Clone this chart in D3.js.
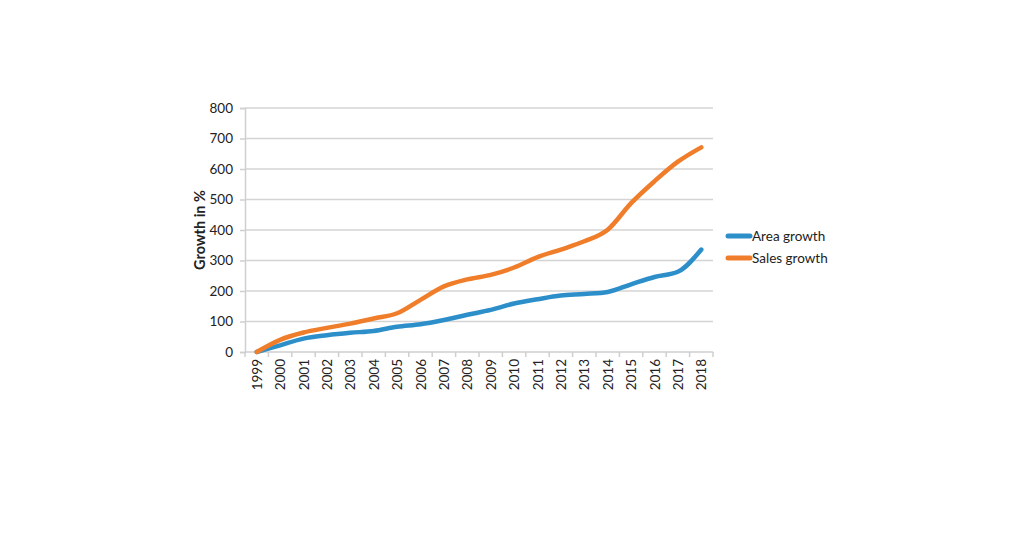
<!DOCTYPE html>
<html>
<head>
<meta charset="utf-8">
<script src="https://cdn.jsdelivr.net/npm/d3@7"></script>
<style>
  body { margin: 0; background: #fff; }
  text { font-family: Lato, "Open Sans", sans-serif; fill: #222; }
</style>
</head>
<body>
<div id="chart"></div>
<script>
const width = 1024;
const height = 536;

// data
const years = ['1999','2000','2001','2002','2003','2004','2005','2006','2007','2008',
               '2009','2010','2011','2012','2013','2014','2015','2016','2017','2018'];
const areaGrowth  = [0, 22, 44, 55, 63, 69, 83, 91, 105, 122, 138, 159, 173, 185, 190, 197, 222, 246, 263, 336];
const salesGrowth = [0, 40, 64, 79, 93, 110, 127, 171, 215, 238, 253, 277, 311, 336, 363, 401, 488, 560, 624, 671];
const yTicks = [0, 100, 200, 300, 400, 500, 600, 700, 800];

const series = [
  { name: 'Area growth', values: areaGrowth, color: '#2d8fca' },
  { name: 'Sales growth', values: salesGrowth, color: '#f07d2a' }
];

const margin = { left: 245, top: 108, right: 311, bottom: 184 };
const innerW = width - margin.left - margin.right;
const innerH = height - margin.top - margin.bottom;

const svg = d3.select('#chart')
  .append('svg')
  .attr('width', width)
  .attr('height', height);

const g = svg.append('g')
  .attr('transform', `translate(${margin.left}, ${margin.top})`);

// scales
const x = d3.scaleBand()
  .domain(years)
  .range([0, innerW]);

const y = d3.scaleLinear()
  .domain([0, 800])
  .range([innerH, 0]);

// gridlines
g.selectAll('line.grid')
  .data(yTicks.filter(d => d > 0))
  .join('line')
  .attr('class', 'grid')
  .attr('x1', 0)
  .attr('x2', innerW)
  .attr('y1', d => y(d))
  .attr('y2', d => y(d))
  .attr('stroke', '#d4d4d4')
  .attr('stroke-width', 1.5);

// y axis
const yAxis = g.append('g')
  .call(d3.axisLeft(y).tickValues(yTicks).tickSize(5).tickPadding(7));
yAxis.select('.domain').attr('stroke', '#cfcfcf').attr('stroke-width', 1.5);
yAxis.selectAll('.tick line').attr('stroke', '#cfcfcf').attr('stroke-width', 1.5);
yAxis.selectAll('text')
  .attr('font-size', '13.5px')
  .attr('fill', '#222')
  .style('font-family', 'Lato, sans-serif');

// x axis: ticks between the categories
const xAxis = g.append('g')
  .attr('transform', `translate(0,${innerH})`);
xAxis.append('line')
  .attr('x1', 0).attr('x2', innerW)
  .attr('stroke', '#cfcfcf').attr('stroke-width', 1.5);
xAxis.selectAll('line.xtick')
  .data(years.concat(['end']))
  .join('line')
  .attr('class', 'xtick')
  .attr('x1', (d, i) => i * x.step())
  .attr('x2', (d, i) => i * x.step())
  .attr('y1', 0)
  .attr('y2', 5)
  .attr('stroke', '#cfcfcf')
  .attr('stroke-width', 1.5);
xAxis.selectAll('text')
  .data(years)
  .join('text')
  .attr('transform', d => `translate(${x(d) + x.bandwidth() / 2 + 5},7) rotate(-90)`)
  .attr('text-anchor', 'end')
  .attr('font-size', '13.5px')
  .text(d => d);

// lines
const line = d3.line()
  .x((d, i) => x(years[i]) + x.bandwidth() / 2)
  .y(d => y(d))
  .curve(d3.curveMonotoneX);

g.selectAll('path.series')
  .data(series)
  .join('path')
  .attr('class', 'series')
  .attr('fill', 'none')
  .attr('stroke', d => d.color)
  .attr('stroke-width', 4.5)
  .attr('stroke-linecap', 'round')
  .attr('stroke-linejoin', 'round')
  .attr('d', d => line(d.values));

// y axis title
g.append('text')
  .attr('transform', `translate(-40,${innerH / 2}) rotate(-90)`)
  .attr('text-anchor', 'middle')
  .attr('font-size', '14.5px')
  .attr('font-weight', 'bold')
  .text('Growth in %');

// legend
const legend = svg.append('g')
  .attr('transform', 'translate(728, 236)');
const items = legend.selectAll('g')
  .data(series)
  .join('g')
  .attr('transform', (d, i) => `translate(0,${i * 22})`);
items.append('line')
  .attr('x1', 0).attr('x2', 22)
  .attr('stroke', d => d.color)
  .attr('stroke-width', 5)
  .attr('stroke-linecap', 'round');
items.append('text')
  .attr('x', 24)
  .attr('dy', '0.35em')
  .attr('font-size', '13.5px')
  .text(d => d.name);
</script>
</body>
</html>
